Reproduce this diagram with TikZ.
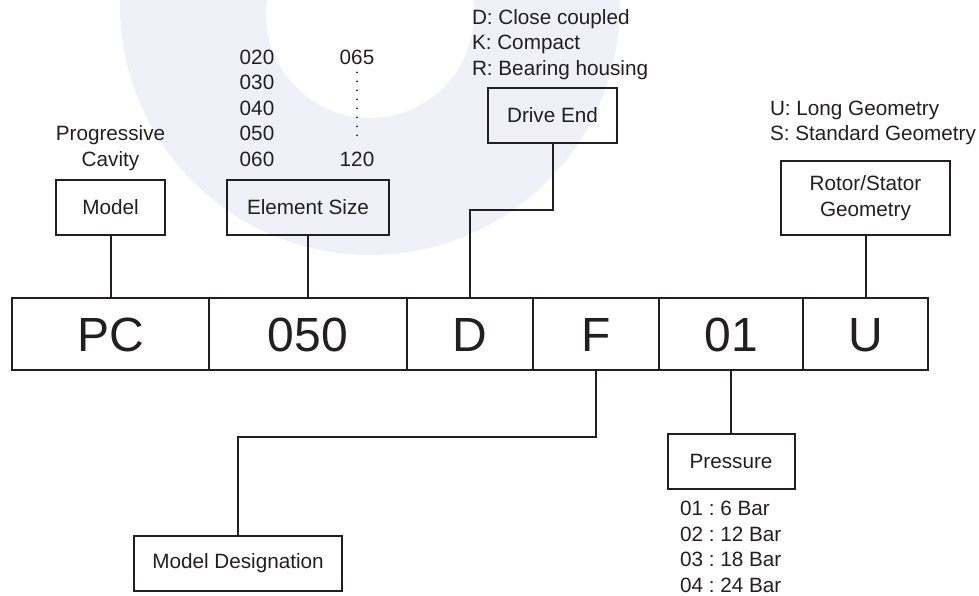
\documentclass[tikz,border=0pt]{standalone}
\usepackage{fontspec}
\setmainfont{Liberation Sans}
\usetikzlibrary{positioning}
\definecolor{ink}{RGB}{35,31,32}
\definecolor{logo}{RGB}{239,240,248}
\frenchspacing
\begin{document}
\begin{tikzpicture}[x=1pt, y=-1pt, line width=2pt, color=ink,
        every node/.style={font=\fontsize{20.7}{25.5}\selectfont, inner sep=0pt},
        box/.style={draw, minimum height=55pt, align=center},
        cell/.style={draw, minimum height=72pt, outer sep=0pt, text height=34.4pt, text depth=0pt, font=\fontsize{48}{48}\selectfont},
        list/.style={align=left, anchor=west},
        dots/.style={line cap=round, dash pattern=on 0pt off 9pt, shorten <=7pt, shorten >=7pt}]
        \useasboundingbox (0,0) rectangle (979,596);
        % faint logo behind the diagram
        \begin{scope}
            \clip (0,0) rectangle (979,596);
            \fill [logo, even odd rule] (370,5) circle [radius=250] (370,14) circle [radius=104];
        \end{scope}
        % the code itself
        \node (pc) [cell, minimum width=197pt] at (110.5,334) {PC};
        \node (size) [cell, minimum width=198pt, right=0pt of pc] {050};
        \node (end) [cell, minimum width=126pt, right=0pt of size] {D};
        \node (design) [cell, minimum width=126pt, right=0pt of end] {F};
        \node (press) [cell, minimum width=144pt, right=0pt of design] {01};
        \node (geom) [cell, minimum width=125pt, right=0pt of press] {U};
        % fields above
        \node (model) [box, minimum width=109pt] at (110.5,207.5) {Model} edge (pc);
        \node (pcname) [align=center] at (110.5,148) {Progressive\\Cavity};
        \node (elsize) [box, minimum width=162pt] at (308,207.5) {Element Size} edge (size);
        \node (sizes) [align=center] at (257,108) {020\\030\\040\\050\\060};
        \node (s065) at (357,57) {065};
        \node (s120) at (357,159) {120};
        \draw [dots] (s065) -- (s120);
        \node (drive) [box, minimum width=129pt] at (552.5,115.5) {Drive End};
        \draw (drive.south) -- ++(0,66) -| (end.north);
        \node (ends) [list] at (471,44.5) {D: Close coupled\\K: Compact\\R: Bearing housing};
        \node (rotor) [box, minimum width=169pt, minimum height=74pt] at (865.5,198) {Rotor/Stator\\Geometry} edge (geom);
        \node (geoms) [list] at (769,122.8) {U: Long Geometry\\S: Standard Geometry};
        % fields below
        \node (mdes) [box, minimum width=208pt] at (238,563.5) {Model Designation};
        \draw (design.south) -- ++(0,67) -| (mdes.north);
        \node (pressure) [box, minimum width=127pt] at (731,461.5) {Pressure} edge (press);
        \node (bars) [list] at (679,547) {01 : 6 Bar\\02 : 12 Bar\\03 : 18 Bar\\04 : 24 Bar};
\end{tikzpicture}
\end{document}
